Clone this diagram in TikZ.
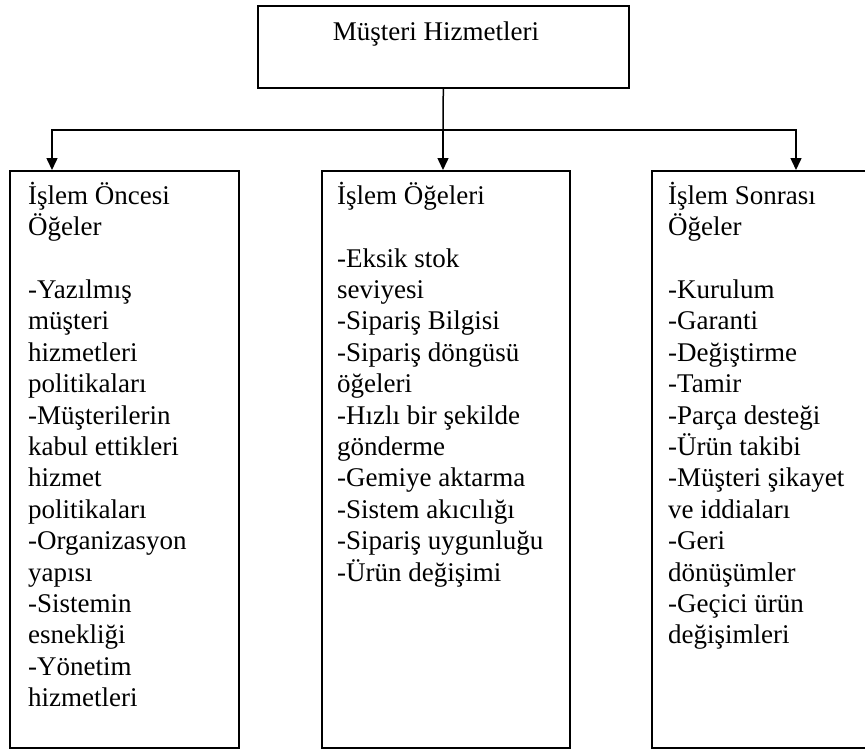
\documentclass[tikz,border=0pt]{standalone}
\usepackage{fontspec}
\setmainfont{Liberation Serif}
\usetikzlibrary{arrows.meta}
\begin{document}
\begin{tikzpicture}[x=1pt,y=-1pt,
  boxstyle/.style={draw=black,line width=1.6pt,rectangle,inner sep=0pt,anchor=north west,fill=none},
  txt/.style={anchor=north west,inner sep=0pt,align=left,font=\fontsize{27}{31.4}\selectfont,text=black},
  conn/.style={line width=1.5pt,draw=black},
  arr/.style={conn,-{Triangle[length=12pt,width=11pt]}}]
\useasboundingbox (0,0) rectangle (865,748);
\clip (0,0) rectangle (865,748);
\fill[white] (0,0) rectangle (865,748);
% top box
\node[boxstyle,minimum width=371pt,minimum height=82pt] (top) at (257,5) {};
\node[anchor=base,inner sep=0pt,font=\fontsize{27}{31.4}\selectfont] (title) at (436,40) {Müşteri Hizmetleri};
% lower boxes
\node[boxstyle,minimum width=229pt,minimum height=577pt] (b1) at (9,170) {};
\node[boxstyle,minimum width=248pt,minimum height=577pt] (b2) at (321,170) {};
\node[boxstyle,minimum width=240pt,minimum height=577pt] (b3) at (651,170) {};
% connector points
\coordinate (j) at (443,130);
\coordinate (a1) at (52,170);
\coordinate (a2) at (443,170);
\coordinate (a3) at (796,170);
\draw[conn] (top.south) -- (j);
\draw[arr] (j) -| (a1);
\draw[arr] (j) -- (a2);
\draw[arr] (j) -| (a3);
% texts
\node[txt] (t1) at (28,180) {\rule{0pt}{24pt}İşlem Öncesi\\Öğeler\\[31.4pt]-Yazılmış\\müşteri\\hizmetleri\\politikaları\\-Müşterilerin\\kabul ettikleri\\hizmet\\politikaları\\-Organizasyon\\yapısı\\-Sistemin\\esnekliği\\-Yönetim\\hizmetleri};
\node[txt] (t2) at (337,180) {\rule{0pt}{24pt}İşlem Öğeleri\\[31.4pt]-Eksik stok\\seviyesi\\-Sipariş Bilgisi\\-Sipariş döngüsü\\öğeleri\\-Hızlı bir şekilde\\gönderme\\-Gemiye aktarma\\-Sistem akıcılığı\\-Sipariş uygunluğu\\-Ürün değişimi};
\node[txt] (t3) at (668,180) {\rule{0pt}{24pt}İşlem Sonrası\\Öğeler\\[31.4pt]-Kurulum\\-Garanti\\-Değiştirme\\-Tamir\\-Parça desteği\\-Ürün takibi\\-Müşteri şikayet\\ve iddiaları\\-Geri\\dönüşümler\\-Geçici ürün\\değişimleri};
\end{tikzpicture}
\end{document}
